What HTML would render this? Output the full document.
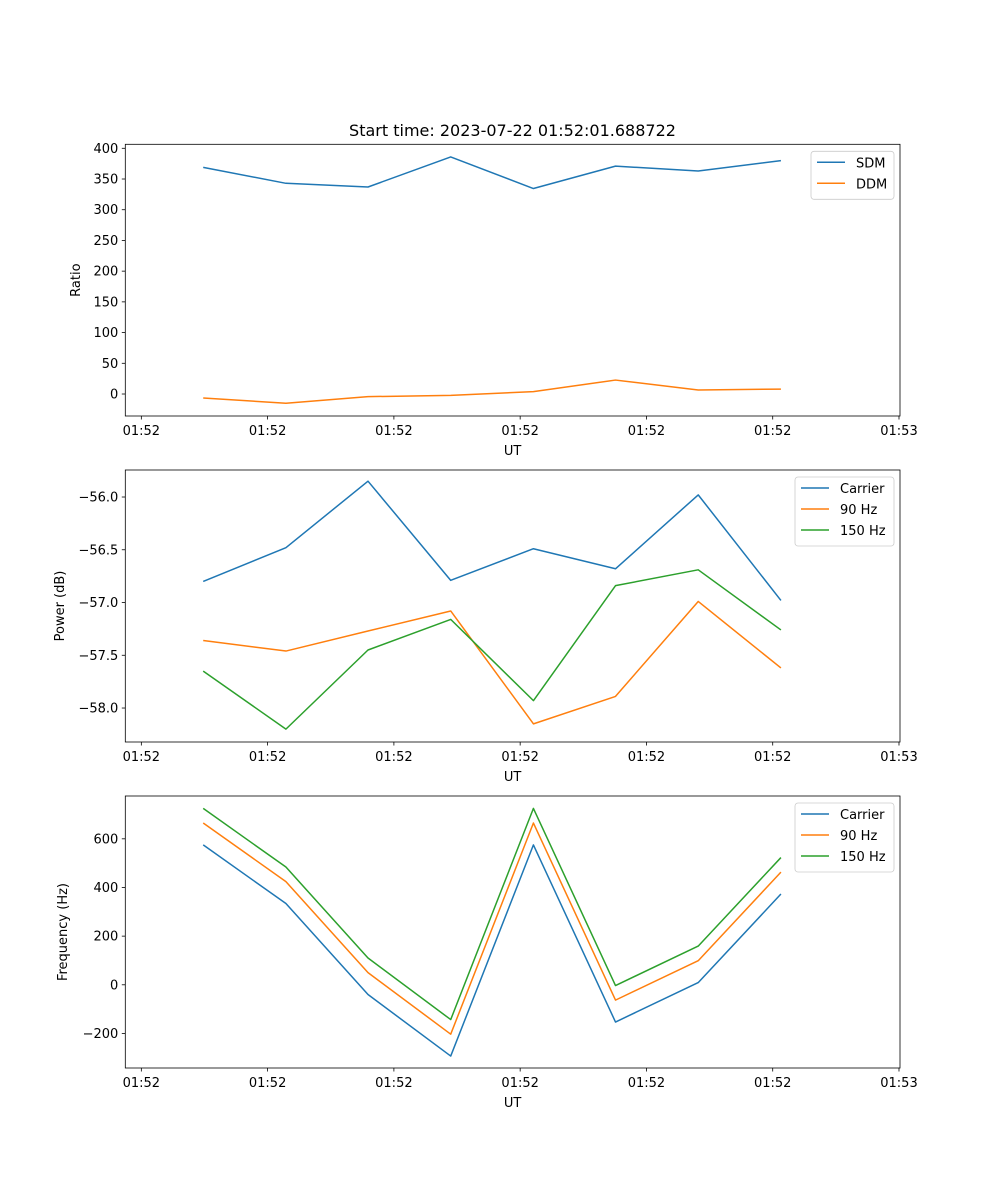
<!DOCTYPE html>
<html><head><meta charset="utf-8"><style>
body{margin:0;background:#fff}
svg{display:block}
text{font-family:"DejaVu Sans","Liberation Sans",sans-serif;fill:#000}
</style></head><body>
<svg id="fig" width="1000" height="1200" xmlns="http://www.w3.org/2000/svg">
<rect width="1000" height="1200" fill="#fff"/>
<text x="512.5" y="136" font-size="16" text-anchor="middle">Start time: 2023-07-22 01:52:01.688722</text>
</svg>
<script>
// times in seconds after 01:52:00
const times = [4.9, 11.45, 17.95, 24.5, 31.05, 37.55, 44.1, 50.65];
const xTickVals = [0, 10, 20, 30, 40, 50, 60];
const xTickLabels = ["01:52","01:52","01:52","01:52","01:52","01:52","01:53"];

const sdm = [369, 343, 337, 386, 334.5, 371, 363, 380];
const ddm = [-6.5, -15, -4.3, -2.2, 3.8, 22.7, 6.5, 8];
const ratioTicks = [0, 50, 100, 150, 200, 250, 300, 350, 400];

const pwrCarrier = [-56.80, -56.48, -55.85, -56.79, -56.49, -56.68, -55.98, -56.98];
const pwr90 = [-57.36, -57.46, -57.27, -57.08, -58.15, -57.89, -56.99, -57.62];
const pwr150 = [-57.65, -58.20, -57.45, -57.16, -57.93, -56.84, -56.69, -57.26];
const pwrTicks = [-58.0, -57.5, -57.0, -56.5, -56.0];
const pwrTickLabels = ["\u221258.0","\u221257.5","\u221257.0","\u221256.5","\u221256.0"];

const frqCarrier = [575, 334, -40, -293, 575, -153, 9, 373];
const frq90 = [665, 424, 50, -203, 665, -63, 99, 463];
const frq150 = [725, 484, 110, -143, 725, -3, 159, 523];
const frqTicks = [-200, 0, 200, 400, 600];
const frqTickLabels = ["\u2212200","0","200","400","600"];

const NS = "http://www.w3.org/2000/svg";
const svg = document.getElementById("fig");
function mk(tag, attrs, parent){ const e=document.createElementNS(NS,tag); for(const k in attrs) e.setAttribute(k,attrs[k]); (parent||svg).appendChild(e); return e; }

const L=125.3, R=900, xMin=-1.27, xMax=60.08;
const xs = t => L + (t - xMin)/(xMax - xMin)*(R - L);

function panel(name, top, bottom, yMin, yMax, yTicks, yLabels, ylabel, ylabelX, series, legend){
  const g = mk("g", {});
  
  
  const ys = v => bottom - (v - yMin)/(yMax - yMin)*(bottom - top);
  yTicks.forEach((v,i)=>{
    const y=ys(v);
    mk("line",{x1:L-3.5,x2:L,y1:y,y2:y,stroke:"#000","stroke-width":0.8},g);
    const t=mk("text",{x:L-7,y:y+4.5,"font-size":13,"text-anchor":"end"},g);
    t.textContent = yLabels ? yLabels[i] : String(v);
    
    
  });
  xTickVals.forEach((v,i)=>{
    const x=xs(v);
    mk("line",{x1:x,x2:x,y1:bottom,y2:bottom+3.5,stroke:"#000","stroke-width":0.8},g);
    const t=mk("text",{x:x,y:bottom+19,"font-size":13,"text-anchor":"middle"},g);
    t.textContent = xTickLabels[i];
    
    
  });
  const xl=mk("text",{x:(L+R)/2,y:bottom+39,"font-size":13,"text-anchor":"middle"},g);
  xl.textContent="UT";
  
  
  const yl=mk("text",{x:ylabelX,y:(top+bottom)/2,"font-size":13,"text-anchor":"middle",transform:`rotate(-90 ${ylabelX} ${(top+bottom)/2})`},g);
  yl.textContent=ylabel;
  
  
  series.forEach(s=>{
    const p=mk("polyline",{points:s.vals.map((v,i)=>xs(times[i])+","+ys(v)).join(" "),fill:"none",stroke:s.color,"stroke-width":1.5,"stroke-linejoin":"round"},g);
    
    
  });
  mk("rect",{x:L,y:top,width:R-L,height:bottom-top,fill:"none",stroke:"#000","stroke-width":0.8},g);
  // legend
  const lw=legend.w, lh=series.length*21+6, lx=R-6-lw, ly=top+7;
  const lg=mk("g",{},g);
  
  
  mk("rect",{x:lx,y:ly,width:lw,height:lh,rx:3,fill:"#fff",stroke:"#ccc","stroke-width":0.8,"fill-opacity":0.8},lg);
  series.forEach((s,i)=>{
    const yy=ly+11+i*21;
    mk("line",{x1:lx+6,x2:lx+34,y1:yy,y2:yy,stroke:s.color,"stroke-width":1.5},lg);
    const t=mk("text",{x:lx+45,y:yy+5,"font-size":13},lg);
    t.textContent=s.label;
    
    
  });
}

panel("ratio-panel",144.3,416,-35.8,406.5,ratioTicks,null,"Ratio",80,
  [{id:"sdm-line",label:"SDM",vals:sdm,color:"#1f77b4"},{id:"ddm-line",label:"DDM",vals:ddm,color:"#ff7f0e"}],{w:83});
panel("power-panel",470,742,-58.322,-55.744,pwrTicks,pwrTickLabels,"Power (dB)",64,
  [{id:"power-carrier-line",label:"Carrier",vals:pwrCarrier,color:"#1f77b4"},{id:"power-90hz-line",label:"90 Hz",vals:pwr90,color:"#ff7f0e"},{id:"power-150hz-line",label:"150 Hz",vals:pwr150,color:"#2ca02c"}],{w:99});
panel("frequency-panel",796,1068,-342,776,frqTicks,frqTickLabels,"Frequency (Hz)",67,
  [{id:"freq-carrier-line",label:"Carrier",vals:frqCarrier,color:"#1f77b4"},{id:"freq-90hz-line",label:"90 Hz",vals:frq90,color:"#ff7f0e"},{id:"freq-150hz-line",label:"150 Hz",vals:frq150,color:"#2ca02c"}],{w:99});
</script>
</body></html>
